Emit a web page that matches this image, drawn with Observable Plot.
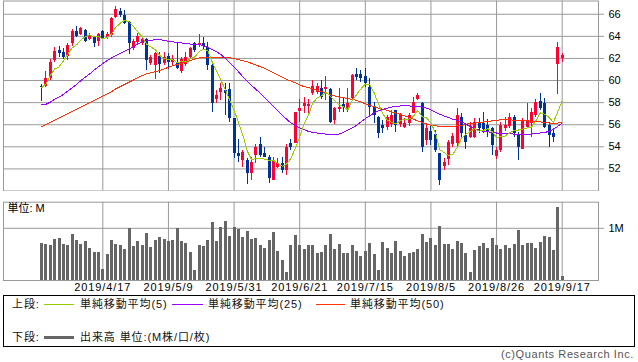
<!DOCTYPE html>
<html><head><meta charset="utf-8">
<script src="https://cdn.jsdelivr.net/npm/d3@7"></script>
<script src="https://cdn.jsdelivr.net/npm/@observablehq/plot@0.6"></script>
<style>
html,body{margin:0;padding:0;background:#fff;}
body{width:638px;height:362px;overflow:hidden;font-family:"Liberation Sans","Noto Sans CJK JP",sans-serif;}
#wrap{position:relative;width:638px;height:362px;}
#price{position:absolute;left:0;top:0;}
#vol{position:absolute;left:0;top:191px;}
#vol svg g[aria-label="x-axis tick label"] text{letter-spacing:0.9px;}
#legend{position:absolute;left:3px;top:295px;width:632px;height:52px;box-sizing:border-box;border:1px solid #000;font-size:11px;color:#111;}
.lt{position:absolute;line-height:12px;white-space:nowrap;letter-spacing:0.9px;}
.ln{position:absolute;height:1px;}
#copy{position:absolute;right:4px;top:348px;font-size:11px;line-height:12px;color:#555;letter-spacing:0.6px;white-space:nowrap;}
</style></head>
<body><div id="wrap">
<div id="price"></div>
<div id="vol"></div>
<div id="legend"></div>
<div id="copy">(c)Quants Research Inc.</div>
</div>
<script>
// ---- data (bar index 0..119, trading days 2019/3/28 .. 2019/9/17) ----
const open = [59.45,59.46,60.15,61.8,62.7,62.57,62.17,63.32,64.44,64.14,
64.53,63.75,63.87,63.53,64.47,63.87,64.08,65.74,66.25,65.89,
65.29,62.93,63.47,63.38,63.69,61.5,61.36,62.17,61.51,62.17,
61.66,61.66,60.85,61.45,62.1,63.32,63.17,63.38,63.02,61.36,
58.25,58.94,59.09,59.15,56.53,53.41,52.75,52.8,51.6,53.2,
54.2,53.41,53.05,50.94,52.14,52.5,51.9,54.26,54.32,57.22,
57.64,57.64,58.85,58.94,59.24,59.15,59.15,56.37,57.34,57.82,
57.43,58.34,60.54,60.54,60.36,59.33,57.64,56.68,55.92,55.77,
56.0,57.28,56.0,55.77,56.13,56.98,58.3,57.88,54.56,55.4,
55.08,53.35,52.24,52.81,54.2,54.26,56.68,55.02,54.86,54.86,
56.07,56.07,55.92,55.62,53.11,53.66,55.62,55.83,56.68,55.1,
53.8,55.77,56.07,56.83,58.13,57.95,55.92,55.23,61.45,61.96];
const high = [59.64,60.8,61.87,63.0,63.08,62.87,63.38,64.6,64.9,64.77,
64.6,64.23,63.93,64.3,64.53,64.38,65.74,66.7,66.5,66.34,
65.38,63.69,64.23,63.9,63.78,62.27,62.57,62.57,62.57,62.48,
62.3,63.47,62.1,62.57,63.02,63.47,64.17,63.87,63.4,61.42,
59.09,59.7,59.7,59.7,56.6,54.7,53.65,52.9,53.05,54.2,
54.86,53.96,53.2,53.05,52.9,53.05,54.2,54.62,57.13,58.25,
58.49,58.3,60.0,59.7,60.0,60.36,59.24,57.58,59.24,58.34,
59.24,60.54,61.06,60.9,61.06,60.15,58.04,56.74,56.37,56.83,
57.28,57.28,56.98,56.53,57.04,58.49,58.79,58.04,56.07,55.92,
55.47,53.35,52.9,54.56,55.23,57.49,56.98,55.92,56.22,56.53,
56.53,57.13,56.43,55.77,53.96,56.22,56.68,56.98,56.83,55.32,
56.53,57.88,57.43,58.25,58.85,58.34,56.22,55.47,63.47,62.42];
const low = [58.13,59.33,60.0,61.66,62.05,61.87,61.81,63.1,63.87,64.08,
63.47,63.6,63.02,63.08,63.69,63.72,63.93,65.6,65.74,65.07,
62.33,62.72,63.17,63.2,60.9,61.36,60.06,60.66,61.36,60.97,
61.3,60.97,60.66,61.27,61.87,62.57,63.02,62.72,60.9,57.13,
57.88,58.19,56.83,56.22,52.9,52.6,52.15,50.57,50.94,52.5,
53.05,53.0,50.7,50.94,52.0,51.54,51.39,53.65,54.26,56.22,
56.98,56.9,58.64,58.73,58.25,58.19,56.13,56.0,57.13,57.13,
57.13,58.19,60.0,59.85,59.33,56.83,56.07,54.71,55.17,55.47,
55.77,55.32,55.77,55.62,55.83,56.98,58.19,53.5,54.1,54.1,
53.5,50.48,51.84,52.3,53.96,53.96,54.86,53.8,54.71,54.71,
55.17,55.17,54.86,53.2,52.81,53.5,55.4,55.62,54.86,52.75,
53.72,55.62,54.8,56.68,57.28,55.62,53.96,54.41,58.73,61.66];
const close = [59.35,60.15,61.6,62.63,62.48,62.05,63.17,64.44,64.02,64.68,
63.56,64.05,63.38,64.14,63.84,64.17,65.59,66.43,65.9,65.2,
63.32,63.56,63.99,63.75,61.81,62.05,62.42,61.42,62.1,61.66,
61.87,61.06,61.87,62.1,62.93,62.72,63.38,63.1,61.36,57.88,
58.64,59.24,58.79,56.53,53.41,53.11,53.5,51.6,52.6,53.96,
53.2,53.05,51.09,52.69,52.45,51.9,53.96,53.9,57.13,57.49,
57.95,57.82,59.45,59.45,58.49,59.33,56.22,57.43,57.58,57.52,
57.88,60.45,60.24,60.15,59.7,57.58,56.83,55.17,55.68,56.68,
56.83,55.92,56.83,56.13,56.83,58.04,58.64,53.96,55.62,54.56,
53.66,50.94,52.6,54.41,54.92,56.83,55.17,54.41,55.62,56.22,
55.62,55.53,55.32,54.11,53.66,55.92,55.92,56.68,55.17,53.9,
56.37,56.37,57.13,58.04,57.43,55.71,55.02,54.8,62.96,62.27];
// volume in millions
const volume = [0.714,0.688,0.669,0.784,0.803,0.688,0.669,0.886,0.765,0.688,
0.746,0.612,0.535,0.535,0.204,0.497,0.765,0.688,0.669,0.593,
0.994,0.650,0.746,0.669,0.899,0.631,0.765,0.822,0.784,0.746,
0.765,0.994,0.746,0.707,0.535,0.191,0.669,0.650,0.765,1.109,
0.746,1.013,1.128,0.841,1.013,0.975,0.822,0.937,0.784,0.803,
0.669,0.612,0.765,0.918,0.554,0.382,0.153,0.669,0.860,0.669,
0.593,0.669,0.669,0.516,0.542,0.669,0.886,0.593,0.688,0.516,
0.516,0.669,0.554,0.459,0.554,0.707,0.497,0.191,0.727,0.612,
0.516,0.746,0.554,0.459,0.516,0.535,0.593,0.886,0.727,0.803,
0.669,1.033,0.688,0.688,0.593,0.746,0.707,0.516,0.153,0.574,
0.650,0.707,0.612,0.803,0.669,0.593,0.669,0.612,0.688,0.956,
0.669,0.707,0.707,0.612,0.727,0.841,0.822,0.574,1.402,0.076];
const ma5 = [59.35,59.7,60.45,61.05,61.24,61.78,62.39,62.95,63.23,63.67,
63.97,64.15,63.94,63.96,63.79,63.92,64.22,64.83,65.19,65.46,
65.29,64.88,64.39,63.96,63.29,63.03,62.8,62.29,61.96,61.93,
61.89,61.62,61.71,61.71,61.97,62.14,62.6,62.85,62.7,61.69,
60.87,60.04,59.18,58.22,57.32,56.22,55.07,53.63,52.84,52.95,
52.97,52.88,52.78,52.8,52.5,52.24,52.42,52.98,53.87,54.88,
56.09,56.86,57.97,58.43,58.63,58.91,58.59,58.18,57.81,57.62,
57.33,58.17,58.73,59.25,59.68,59.62,58.9,57.89,56.99,56.39,
56.24,56.06,56.39,56.48,56.51,56.75,57.29,56.72,56.62,56.16,
55.29,53.75,53.48,53.23,53.31,53.94,54.79,55.15,55.39,55.65,
55.41,55.48,55.66,55.36,54.85,54.91,54.99,55.26,55.47,55.52,
55.61,55.7,55.79,56.36,57.07,56.94,56.67,56.2,57.18,58.15];
const ma25 = [57.8,57.85,58.05,58.3,58.5,58.75,59.05,59.35,59.65,60.0,
60.3,60.6,60.95,61.25,61.55,61.8,62.05,62.25,62.45,62.65,
62.85,63.05,63.3,63.5,63.6,63.65,63.7,63.7,63.65,63.55,
63.5,63.45,63.4,63.35,63.3,63.28,63.27,63.15,63.0,62.8,
62.6,62.35,62.0,61.6,61.2,60.8,60.35,59.95,59.55,59.2,
58.85,58.45,58.05,57.65,57.25,56.85,56.5,56.15,55.95,55.7,
55.55,55.4,55.3,55.25,55.2,55.15,55.1,55.1,55.15,55.3,
55.5,55.7,55.95,56.25,56.55,56.8,57.05,57.25,57.4,57.5,
57.6,57.65,57.7,57.7,57.7,57.65,57.65,57.6,57.5,57.35,
57.15,56.95,56.8,56.65,56.5,56.4,56.25,56.05,55.85,55.65,
55.5,55.4,55.35,55.3,55.25,55.25,55.2,55.2,55.15,55.1,
55.1,55.1,55.15,55.2,55.25,55.3,55.4,55.6,55.85,56.15];
const ma50 = [55.8,56.0,56.2,56.4,56.6,56.8,57.0,57.2,57.4,57.6,
57.8,58.0,58.2,58.4,58.6,58.8,59.0,59.25,59.45,59.65,
59.85,60.05,60.25,60.45,60.6,60.7,60.8,60.9,61.05,61.2,
61.35,61.45,61.55,61.65,61.8,61.95,62.05,62.1,62.1,62.1,
62.1,62.1,62.08,62.05,62.0,61.9,61.8,61.7,61.55,61.4,
61.25,61.1,60.9,60.7,60.5,60.3,60.1,59.95,59.8,59.6,
59.45,59.35,59.25,59.1,59.0,58.85,58.7,58.6,58.5,58.45,
58.35,58.3,58.2,58.05,57.9,57.75,57.65,57.5,57.4,57.3,
57.15,57.05,56.95,56.8,56.65,56.5,56.35,56.2,56.05,55.95,
55.9,55.85,55.85,55.85,55.85,55.9,55.95,56.05,56.1,56.15,
56.2,56.25,56.3,56.35,56.4,56.45,56.45,56.45,56.4,56.35,
56.35,56.35,56.3,56.3,56.25,56.2,56.15,56.1,56.15,56.25];
const tickIndex = [14,29,44,59,74,89,104,119];
const tickLabels = ["2019/4/17","2019/5/9","2019/5/31","2019/6/21","2019/7/15","2019/8/5","2019/8/26","2019/9/17"];
const priceTicks = [52,54,56,58,60,62,64,66];
const volTicks = [1];

// ---- styling ----
const UP = "#ff0033", DOWN = "#003399", GRID = "#999999";
const FONT = '"Liberation Sans","Noto Sans CJK JP",sans-serif';
const xDomain = [-8.7, 127.3];

const bars = close.map((c, i) => ({i, o: open[i], h: high[i], l: low[i], c, v: volume[i],
  ma5: ma5[i], ma25: ma25[i], ma50: ma50[i], up: c >= open[i]}));
const labelOf = new Map(tickIndex.map((d, k) => [d, tickLabels[k]]));
const col = d => d.up ? UP : DOWN;
const crisp = {shapeRendering: "crispEdges"};

const price = Plot.plot({
  width: 638, height: 191,
  marginLeft: 3, marginRight: 40, marginTop: 0.5, marginBottom: 0.5,
  x: {domain: xDomain, axis: null},
  y: {domain: [50, 67.2], axis: null},
  style: {fontFamily: FONT, fontSize: "11px", color: "#000", background: "transparent"},
  marks: [
    Plot.gridY(priceTicks, {stroke: GRID, strokeOpacity: 1}),
    Plot.gridX(tickIndex, {stroke: GRID, strokeOpacity: 1}),
    Plot.frame({stroke: GRID}),
    Plot.axisY(priceTicks, {anchor: "right", label: null, tickSize: 5, tickPadding: 5, stroke: GRID, fill: "#000", fontSize: 11}),
    Plot.ruleX(bars, {x: "i", y1: "l", y2: "h", stroke: col, strokeWidth: 1, ...crisp}),
    Plot.ruleX(bars, {x: "i", y1: "o", y2: "c", stroke: col, strokeWidth: 3, ...crisp}),
    Plot.line(bars, {x: "i", y: "ma50", stroke: "#ff3300", strokeWidth: 1, ...crisp}),
    Plot.line(bars, {x: "i", y: "ma25", stroke: "#9900ff", strokeWidth: 1, ...crisp}),
    Plot.line(bars, {x: "i", y: "ma5", stroke: "#99cc00", strokeWidth: 1, ...crisp})
  ]
});
document.getElementById("price").append(price);

const vol = Plot.plot({
  width: 638, height: 104,
  marginLeft: 3, marginRight: 40, marginTop: 10.7, marginBottom: 15,
  x: {domain: xDomain, axis: null},
  y: {domain: [0, 1.5], axis: null},
  style: {fontFamily: FONT, fontSize: "11px", color: "#000", background: "transparent"},
  marks: [
    Plot.gridY(volTicks, {stroke: GRID, strokeOpacity: 1}),
    Plot.gridX(tickIndex, {stroke: GRID, strokeOpacity: 1}),
    Plot.ruleX(bars, {x: "i", y: "v", stroke: "#666666", strokeWidth: 3, ...crisp}),
    Plot.frame({stroke: GRID}),
    Plot.axisY(volTicks, {anchor: "right", label: null, tickSize: 5, tickPadding: 5, stroke: GRID, fill: "#000", fontSize: 11, tickFormat: d => d + "M"}),
    Plot.axisX(tickIndex, {anchor: "bottom", label: null, tickSize: 0, tickPadding: 3, fill: "#000", fontSize: 11, tickFormat: d => labelOf.get(d)}),
    Plot.text(["単位: M"], {frameAnchor: "top-left", dx: 4, dy: 6, fill: "#000", fontSize: 11, textAnchor: "start", lineAnchor: "middle"})
  ]
});
document.getElementById("vol").append(vol);

// ---- legend ----
const legendRows = [
  {label: "上段:", top: 8, items: [
    {color: "#99cc00", x: 40, w: 30, h: 1, text: "単純移動平均(5)", tx: 76},
    {color: "#9900ff", x: 168, w: 31, h: 1, text: "単純移動平均(25)", tx: 204},
    {color: "#ff3300", x: 312, w: 29, h: 1, text: "単純移動平均(50)", tx: 346}]},
  {label: "下段:", top: 41, items: [
    {color: "#666666", x: 40, w: 30, h: 3, text: "出来高 単位:(M株/口/枚)", tx: 76}]}
];
const lg = document.getElementById("legend");
for (const r of legendRows) {
  const s = document.createElement("div");
  s.className = "lt"; s.textContent = r.label;
  s.style.left = "8px"; s.style.top = (r.top - 6) + "px";
  lg.append(s);
  for (const it of r.items) {
    const l = document.createElement("div");
    l.className = "ln"; l.style.background = it.color;
    l.style.left = it.x + "px"; l.style.width = it.w + "px";
    l.style.height = it.h + "px"; l.style.top = (r.top - Math.floor(it.h / 2)) + "px";
    lg.append(l);
    const t = document.createElement("div");
    t.className = "lt"; t.textContent = it.text;
    t.style.left = it.tx + "px"; t.style.top = (r.top - 6) + "px";
    lg.append(t);
  }
}
</script>
</body></html>
